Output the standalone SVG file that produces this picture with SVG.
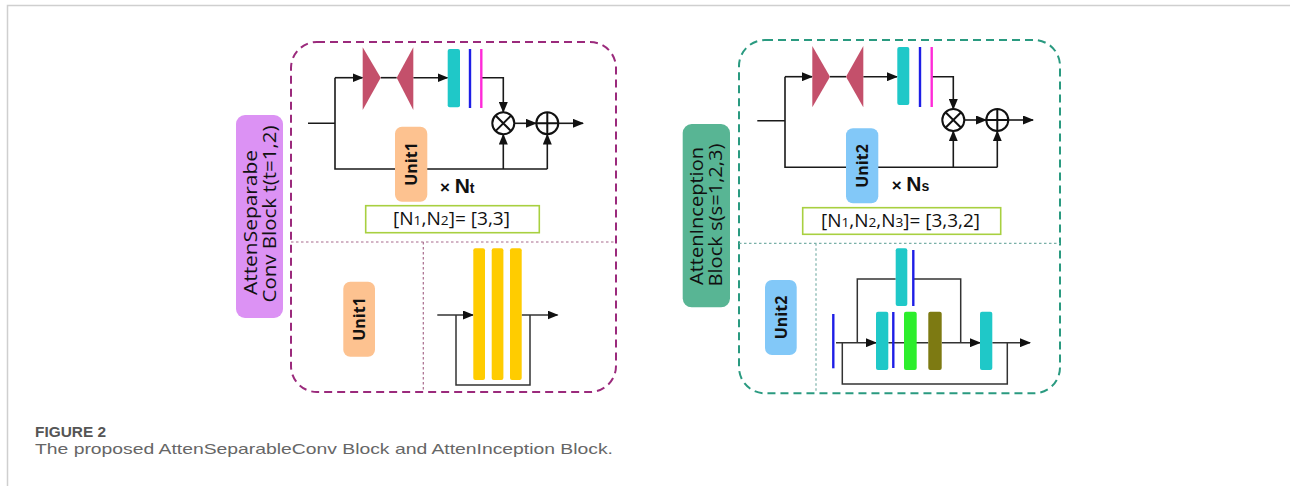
<svg xmlns="http://www.w3.org/2000/svg" width="1290" height="486" viewBox="0 0 1290 486">
<defs>
<marker id="ah" markerUnits="userSpaceOnUse" markerWidth="11" markerHeight="9" refX="10" refY="4.5" orient="auto">
<path d="M0,0 L11,4.5 L0,9 Z" fill="#111"/>
</marker>
<style>
.ln{fill:none;stroke:#1a1a1a;stroke-width:1.6}
.ln2{fill:none;stroke:#333;stroke-width:1.5}
.tri{fill:#c4506b}
.cy{fill:#1fc8c8}
.bl{stroke:#1e1ee6;stroke-width:2.4}
.mg{stroke:#ff2ad8;stroke-width:2.4}
.op{fill:#fff;stroke:#111;stroke-width:2}
.lbl{font-family:"Open Sans","Liberation Sans",sans-serif;font-size:18px;fill:#111}
.unit{font-family:"Open Sans","Liberation Sans",sans-serif;font-size:16px;font-weight:bold;fill:#111}
.nt{font-family:"Liberation Sans",Arial,sans-serif;font-weight:bold;fill:#111}
.br{font-family:"Open Sans","Liberation Sans",sans-serif;font-size:18px;fill:#111}
.cap{font-family:"Liberation Sans",Arial,sans-serif;font-size:14.5px}
</style>
</defs>
<rect width="1290" height="486" fill="#fff"/>
<path d="M7.5,486 V5.5 H1290" fill="none" stroke="#cfcfcf" stroke-width="1.5"/>

<!-- Left panel -->
<g id="panel-separable">
<rect x="291" y="42" width="325" height="350" rx="26" fill="none" stroke="#9b2a7c" stroke-width="2" stroke-dasharray="8,5"/>
<path d="M291,242 H616 M423.3,242 V392" stroke="#a86a8c" stroke-width="1.2" stroke-dasharray="2.5,2.5" fill="none"/>
</g>
<g id="label-separable">
<rect x="236" y="115" width="47" height="203" rx="9" fill="#dc92f4"/>
<text class="lbl" transform="translate(256.5,222.5) rotate(-90)" text-anchor="middle" textLength="145" lengthAdjust="spacingAndGlyphs">AttenSeparabe</text>
<text class="lbl" transform="translate(276,214) rotate(-90)" text-anchor="middle" textLength="177" lengthAdjust="spacingAndGlyphs">Conv Block t(t=1,2)</text>
</g>

<g id="connectors-left">
<path class="ln" d="M308,123.3 H335 M335,77.7 V169 H547.3"/>
<path class="ln" d="M335,77.7 H362.5" marker-end="url(#ah)"/>
<path class="ln" d="M380.7,77.7 H396.7"/>
<path class="ln" d="M413.3,77.7 H447.5" marker-end="url(#ah)"/>
<path class="ln" d="M481.3,77.7 H503.3 V112" marker-end="url(#ah)"/>
<path class="ln" d="M514.3,123.3 H536" marker-end="url(#ah)"/>
<path class="ln" d="M558.3,123.3 H583" marker-end="url(#ah)"/>
<path class="ln" d="M503.3,169 V134.6" marker-end="url(#ah)"/>
<path class="ln" d="M547.3,169 V134.6" marker-end="url(#ah)"/>
<path class="ln2" d="M437.3,315 H473" marker-end="url(#ah)"/>
<path class="ln2" d="M456,315 V385 H530 V315"/>
<path class="ln2" d="M521.7,315 H557.5" marker-end="url(#ah)"/>
</g>

<g id="dwconv-left">
<path class="tri" d="M362.7,47.3 L380.7,77.7 L362.7,110 Z"/>
<path class="tri" d="M413.3,47.3 L396.7,77.7 L413.3,110 Z"/>
</g>
<g id="attn-left">
<rect class="cy" x="447.7" y="49" width="12.3" height="58.3" rx="2"/>
<line class="bl" x1="470" y1="49" x2="470" y2="108"/>
<line class="mg" x1="481.3" y1="49" x2="481.3" y2="108"/>
</g>
<g id="mul-left">
<circle class="op" cx="503.3" cy="123.3" r="11"/>
<path d="M495.5,115.5 L511.1,131.1 M511.1,115.5 L495.5,131.1" stroke="#111" stroke-width="2"/>
</g>
<g id="add-left">
<circle class="op" cx="547.3" cy="123.3" r="11"/>
<path d="M536.3,123.3 H558.3 M547.3,112.3 V134.3" stroke="#111" stroke-width="2"/>
</g>
<g id="unit1-top">
<rect x="395" y="126.7" width="32.3" height="75" rx="7" fill="#fdc290"/>
<text class="unit" transform="translate(416.5,164) rotate(-90)" text-anchor="middle">Unit1</text>
</g>
<text class="nt" x="440" y="192.5"><tspan font-size="17">× </tspan><tspan font-size="21">N</tspan><tspan font-size="14">t</tspan></text>
<g id="param-left">
<rect x="365.7" y="205.7" width="173.6" height="27" fill="#fff" stroke="#a8d040" stroke-width="1.6"/>
<text class="br" x="393" y="225" textLength="117" lengthAdjust="spacingAndGlyphs">[N<tspan font-size="13">1</tspan>,N<tspan font-size="13">2</tspan>]= [3,3]</text>
</g>
<g id="unit1-bottom">
<rect x="343.3" y="281.7" width="31.7" height="75" rx="7" fill="#fdc290"/>
<text class="unit" transform="translate(364.5,319) rotate(-90)" text-anchor="middle">Unit1</text>
</g>
<g id="conv-stack">
<rect x="473.3" y="248.3" width="11.7" height="131.7" rx="2" fill="#ffcc00"/>
<rect x="491.7" y="248.3" width="11.7" height="131.7" rx="2" fill="#ffcc00"/>
<rect x="510" y="248.3" width="11.7" height="131.7" rx="2" fill="#ffcc00"/>
</g>

<!-- Right panel -->
<g id="panel-inception">
<rect x="739" y="40" width="321" height="353.3" rx="26" fill="none" stroke="#2a9a80" stroke-width="2" stroke-dasharray="8,5"/>
<path d="M739,243.3 H1060 M816,243.3 V393.3" stroke="#7ab0a8" stroke-width="1.2" stroke-dasharray="2.5,2.5" fill="none"/>
</g>
<g id="label-inception">
<rect x="682.7" y="124" width="47.3" height="183.3" rx="9" fill="#58b594"/>
<text class="lbl" transform="translate(702.5,216) rotate(-90)" text-anchor="middle" textLength="138" lengthAdjust="spacingAndGlyphs">AttenInception</text>
<text class="lbl" transform="translate(722,215) rotate(-90)" text-anchor="middle" textLength="143" lengthAdjust="spacingAndGlyphs">Block s(s=1,2,3)</text>
</g>

<g id="connectors-right">
<path class="ln" d="M757.3,120.7 H785 M785,76.7 V167.3 H997.3"/>
<path class="ln" d="M785,76.7 H812" marker-end="url(#ah)"/>
<path class="ln" d="M830,76.7 H846"/>
<path class="ln" d="M863.3,76.7 H897" marker-end="url(#ah)"/>
<path class="ln" d="M931.7,76.7 H953.3 V109" marker-end="url(#ah)"/>
<path class="ln" d="M964.3,120 H986" marker-end="url(#ah)"/>
<path class="ln" d="M1008.3,120 H1033" marker-end="url(#ah)"/>
<path class="ln" d="M953.3,167.3 V131.2" marker-end="url(#ah)"/>
<path class="ln" d="M997.3,167.3 V131.2" marker-end="url(#ah)"/>
<path class="ln2" d="M836,342.7 H876" marker-end="url(#ah)"/>
<path class="ln2" d="M888.3,342.7 H928.3"/>
<path class="ln2" d="M941.7,342.7 H980" marker-end="url(#ah)"/>
<path class="ln2" d="M992.3,342.7 H1030" marker-end="url(#ah)"/>
<path class="ln2" d="M857.3,342.7 V279 H895.7 M913.3,279 H960.7 V342.7"/>
<path class="ln2" d="M842.3,342.7 V384 H1007.3 V342.7"/>
</g>

<g id="dwconv-right">
<path class="tri" d="M812.3,46 L830,76.7 L812.3,107.3 Z"/>
<path class="tri" d="M863.3,46 L846,76.7 L863.3,107.3 Z"/>
</g>
<g id="attn-right">
<rect class="cy" x="897.3" y="47" width="12" height="58" rx="2"/>
<line class="bl" x1="920" y1="47" x2="920" y2="107"/>
<line class="mg" x1="931.7" y1="47" x2="931.7" y2="107"/>
</g>
<g id="mul-right">
<circle class="op" cx="953.3" cy="120" r="11"/>
<path d="M945.5,112.2 L961.1,127.8 M961.1,112.2 L945.5,127.8" stroke="#111" stroke-width="2"/>
</g>
<g id="add-right">
<circle class="op" cx="997.3" cy="120" r="11"/>
<path d="M986.3,120 H1008.3 M997.3,109 V131" stroke="#111" stroke-width="2"/>
</g>
<g id="unit2-top">
<rect x="846" y="128.3" width="32.3" height="75" rx="7" fill="#82c8f8"/>
<text class="unit" transform="translate(867.5,166) rotate(-90)" text-anchor="middle">Unit2</text>
</g>
<text class="nt" x="891.7" y="191"><tspan font-size="17">× </tspan><tspan font-size="21">N</tspan><tspan font-size="14">s</tspan></text>
<g id="param-right">
<rect x="802.7" y="207.7" width="198" height="26.6" fill="#fff" stroke="#a8d040" stroke-width="1.6"/>
<text class="br" x="821" y="227" textLength="159" lengthAdjust="spacingAndGlyphs">[N<tspan font-size="13">1</tspan>,N<tspan font-size="13">2</tspan>,N<tspan font-size="13">3</tspan>]= [3,3,2]</text>
</g>
<g id="unit2-bottom">
<rect x="765" y="280" width="31.7" height="75" rx="7" fill="#82c8f8"/>
<text class="unit" transform="translate(786.5,317.5) rotate(-90)" text-anchor="middle">Unit2</text>
</g>
<g id="inception">
<line class="bl" x1="833.3" y1="314" x2="833.3" y2="368.3"/>
<rect class="cy" x="876" y="311.7" width="12.3" height="58.3" rx="2"/>
<line class="bl" x1="893.3" y1="312" x2="893.3" y2="368"/>
<rect x="904" y="311.7" width="12.7" height="58.3" rx="2" fill="#2cee2c"/>
<rect x="928.3" y="311.7" width="13.4" height="58.3" rx="2" fill="#7d7a12"/>
<rect class="cy" x="980" y="311.7" width="12.3" height="58.3" rx="2"/>
<rect class="cy" x="895.7" y="248.3" width="11.6" height="57.7" rx="2"/>
<line class="bl" x1="913.3" y1="250" x2="913.3" y2="306"/>
</g>

<!-- Caption -->
<text class="cap" x="35" y="437" font-weight="bold" fill="#555" textLength="71" lengthAdjust="spacingAndGlyphs">FIGURE 2</text>
<text class="cap" x="35" y="453.5" fill="#666" textLength="578" lengthAdjust="spacingAndGlyphs">The proposed AttenSeparableConv Block and AttenInception Block.</text>
</svg>
